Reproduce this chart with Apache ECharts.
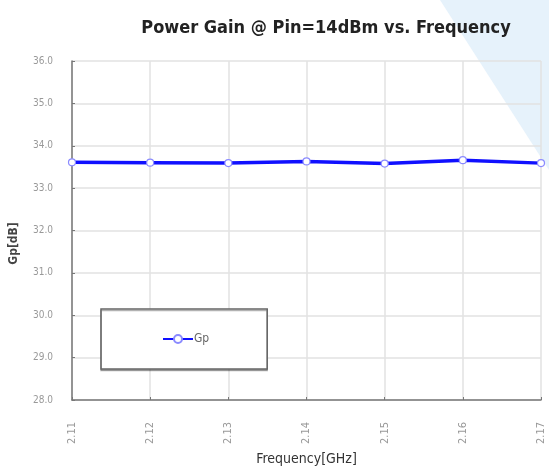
<!DOCTYPE html>
<html><head><meta charset="utf-8">
<script src="https://cdn.jsdelivr.net/npm/echarts@6/dist/echarts.min.js"></script>
<style>html,body{margin:0;padding:0;background:#fff}#c{width:549px;height:473px}</style>
</head><body><div id="c"></div>
<script>
const categories = ['2.11','2.12','2.13','2.14','2.15','2.16','2.17'];
const gpValues = [33.61, 33.60, 33.59, 33.63, 33.58, 33.66, 33.59];
const seriesName = 'Gp';

const chart = echarts.init(document.getElementById('c'));
chart.setOption({
  backgroundColor: '#fff',
  animation: false,
  graphic: [{
    type: 'polygon', z: -10, silent: true,
    shape: { points: [[440,0],[549,0],[549,170]] },
    style: { fill: '#e6f2fb' }
  }],
  title: {
    text: 'Power Gain @ Pin=14dBm vs. Frequency',
    left: 321, top: 14, textAlign: 'center',
    textStyle: { fontFamily: 'DejaVu Sans Condensed', fontWeight: 'bold', fontSize: 18, color: '#222' }
  },
  legend: {
    left: 101, top: 309,
    padding: [24, 58, 24, 61],
    borderColor: '#666', borderWidth: 1.5, backgroundColor: '#fff',
    shadowColor: 'rgba(0,0,0,0.3)', shadowOffsetY: 1.5, shadowBlur: 0,
    itemWidth: 30, itemHeight: 10, itemGap: 4,
    textStyle: { fontFamily: 'DejaVu Sans Condensed', fontSize: 12, color: '#666', padding: [0,0,0,-4] },
    data: [seriesName]
  },
  grid: { left: 71, right: 8, top: 61, bottom: 73 },
  xAxis: {
    type: 'category', data: categories, boundaryGap: false,
    name: 'Frequency[GHz]', nameLocation: 'middle', nameGap: 52,
    nameTextStyle: { fontFamily: 'DejaVu Sans Condensed', fontSize: 14, color: '#333' },
    axisLine: { lineStyle: { color: '#777', width: 1.5 } },
    axisTick: { inside: true, length: 3, lineStyle: { color: '#777' } },
    axisLabel: { rotate: 90, margin: 22, fontFamily: 'DejaVu Sans Condensed', fontSize: 11, color: '#999' },
    splitLine: { show: true, lineStyle: { color: '#e2e2e2', width: 1.5 } }
  },
  yAxis: {
    type: 'value', min: 28, max: 36, interval: 1,
    name: 'Gp[dB]', nameLocation: 'middle', nameGap: 52, nameRotate: 90,
    nameTextStyle: { fontFamily: 'DejaVu Sans Condensed', fontSize: 12, fontWeight: 'bold', color: '#444', padding: [0, 26, 0, 0] },
    axisLine: { show: true, lineStyle: { color: '#777', width: 1.5 } },
    axisTick: { show: true, inside: true, length: 3, lineStyle: { color: '#777' } },
    axisLabel: { margin: 19, fontFamily: 'DejaVu Sans Condensed', fontSize: 10, color: '#999',
      formatter: v => v.toFixed(1) },
    splitLine: { lineStyle: { color: '#e2e2e2', width: 1.5 } }
  },
  series: [{
    name: seriesName, type: 'line', data: gpValues,
    smooth: false,
    lineStyle: { color: '#1010ff', width: 3.5 },
    itemStyle: { color: '#ffffff', borderColor: '#8a8aff', borderWidth: 1.2 },
    symbol: 'circle', symbolSize: 7, showSymbol: true
  }]
});
</script></body></html>
